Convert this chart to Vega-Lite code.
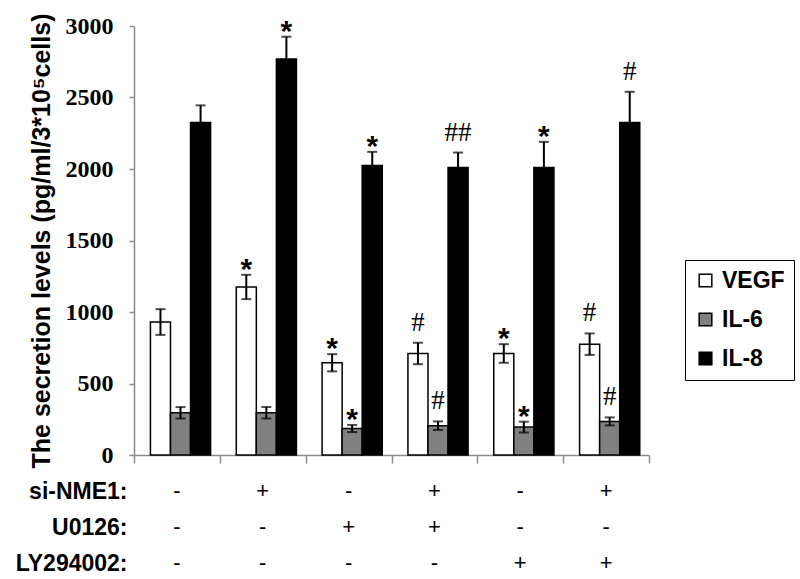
{
  "$schema": "https://vega.github.io/schema/vega-lite/v6.json",
  "background": "white",
  "padding": {"left": 15, "top": 13, "right": 0, "bottom": 0},
  "spacing": 12,
  "resolve": {"legend": {"color": "independent"}},
  "config": {
    "view": {"stroke": null},
    "axis": {"domainColor": "#8c8c8c", "tickColor": "#8c8c8c", "domainWidth": 1.5, "tickWidth": 1.5, "grid": false}
  },
  "datasets": {
    "bars": [
      {"group": "1", "series": "VEGF", "value": 930, "lo": 840, "hi": 1020, "sig": ""},
      {"group": "1", "series": "IL-6", "value": 295, "lo": 255, "hi": 335, "sig": ""},
      {"group": "1", "series": "IL-8", "value": 2325, "lo": 2205, "hi": 2445, "sig": ""},
      {"group": "2", "series": "VEGF", "value": 1175, "lo": 1090, "hi": 1260, "sig": "*"},
      {"group": "2", "series": "IL-6", "value": 295, "lo": 255, "hi": 335, "sig": ""},
      {"group": "2", "series": "IL-8", "value": 2770, "lo": 2615, "hi": 2925, "sig": "*"},
      {"group": "3", "series": "VEGF", "value": 645, "lo": 585, "hi": 705, "sig": "*"},
      {"group": "3", "series": "IL-6", "value": 185, "lo": 160, "hi": 210, "sig": "*"},
      {"group": "3", "series": "IL-8", "value": 2025, "lo": 1930, "hi": 2120, "sig": "*"},
      {"group": "4", "series": "VEGF", "value": 710, "lo": 635, "hi": 785, "sig": "#"},
      {"group": "4", "series": "IL-6", "value": 205, "lo": 175, "hi": 235, "sig": "#"},
      {"group": "4", "series": "IL-8", "value": 2010, "lo": 1905, "hi": 2115, "sig": "##"},
      {"group": "5", "series": "VEGF", "value": 710, "lo": 645, "hi": 775, "sig": "*"},
      {"group": "5", "series": "IL-6", "value": 195, "lo": 157, "hi": 233, "sig": "*"},
      {"group": "5", "series": "IL-8", "value": 2010, "lo": 1830, "hi": 2190, "sig": "*"},
      {"group": "6", "series": "VEGF", "value": 775, "lo": 700, "hi": 850, "sig": "#"},
      {"group": "6", "series": "IL-6", "value": 235, "lo": 207, "hi": 263, "sig": "#"},
      {"group": "6", "series": "IL-8", "value": 2325, "lo": 2110, "hi": 2540, "sig": "#"}
    ],
    "table": [
      {"group": "1", "treatment": "si-NME1:", "sign": "-"},
      {"group": "2", "treatment": "si-NME1:", "sign": "+"},
      {"group": "3", "treatment": "si-NME1:", "sign": "-"},
      {"group": "4", "treatment": "si-NME1:", "sign": "+"},
      {"group": "5", "treatment": "si-NME1:", "sign": "-"},
      {"group": "6", "treatment": "si-NME1:", "sign": "+"},
      {"group": "1", "treatment": "U0126:", "sign": "-"},
      {"group": "2", "treatment": "U0126:", "sign": "-"},
      {"group": "3", "treatment": "U0126:", "sign": "+"},
      {"group": "4", "treatment": "U0126:", "sign": "+"},
      {"group": "5", "treatment": "U0126:", "sign": "-"},
      {"group": "6", "treatment": "U0126:", "sign": "-"},
      {"group": "1", "treatment": "LY294002:", "sign": "-"},
      {"group": "2", "treatment": "LY294002:", "sign": "-"},
      {"group": "3", "treatment": "LY294002:", "sign": "-"},
      {"group": "4", "treatment": "LY294002:", "sign": "-"},
      {"group": "5", "treatment": "LY294002:", "sign": "+"},
      {"group": "6", "treatment": "LY294002:", "sign": "+"}
    ]
  },
  "vconcat": [
    {
      "width": 515,
      "height": 429,
      "data": {"name": "bars"},
      "encoding": {
        "x": {"field": "group", "type": "nominal", "scale": {"paddingInner": 0, "paddingOuter": 0},
              "axis": {"labels": false, "title": null, "tickBand": "extent", "tickSize": 8}},
        "xOffset": {"field": "series", "type": "nominal", "sort": ["VEGF", "IL-6", "IL-8"],
                    "scale": {"paddingInner": 0, "paddingOuter": 0.64, "align": 0.64}}
      },
      "layer": [
        {
          "mark": {"type": "bar", "stroke": "black", "strokeWidth": 1.5},
          "encoding": {
            "y": {"field": "value", "type": "quantitative", "scale": {"domain": [0, 3000], "nice": false},
                  "axis": {"values": [0, 500, 1000, 1500, 2000, 2500, 3000], "format": "d", "tickSize": 5, "labelPadding": 16,
                           "labelFont": "Liberation Serif", "labelFontSize": 24, "labelFontWeight": "bold", "labelColor": "black",
                           "title": "The secretion levels (pg/ml/3*10⁵cells)", "titleFont": "Liberation Sans", "titleFontSize": 25,
                           "titleFontWeight": "bold", "titleColor": "black", "titlePadding": 11}},
            "color": {"field": "series", "type": "nominal",
                      "scale": {"domain": ["VEGF", "IL-6", "IL-8"], "range": ["white", "#808080", "black"]},
                      "legend": {"title": null, "orient": "none", "legendX": 551, "legendY": 234, "strokeColor": "black",
                                 "padding": 9, "symbolType": "square", "symbolSize": 160, "symbolStrokeColor": "black",
                                 "symbolStrokeWidth": 1.5, "labelFont": "Liberation Sans", "labelFontSize": 23,
                                 "labelFontWeight": "bold", "labelColor": "black", "rowPadding": 15, "labelOffset": 5}}
          }
        },
        {
          "mark": {"type": "rule", "color": "black", "strokeWidth": 2},
          "encoding": {"y": {"field": "lo", "type": "quantitative"}, "y2": {"field": "hi"}}
        },
        {
          "mark": {"type": "tick", "color": "black", "size": 10, "thickness": 2},
          "encoding": {"y": {"field": "hi", "type": "quantitative"}}
        },
        {
          "mark": {"type": "tick", "color": "black", "size": 10, "thickness": 2},
          "encoding": {"y": {"field": "lo", "type": "quantitative"}}
        },
        {
          "transform": [{"filter": "datum.sig == '*'"}],
          "mark": {"type": "text", "font": "Liberation Sans", "fontSize": 30, "fontWeight": "bold", "baseline": "alphabetic", "dy": 4, "color": "black"},
          "encoding": {"y": {"field": "hi", "type": "quantitative"}, "text": {"field": "sig"}}
        },
        {
          "transform": [{"filter": "indexof(datum.sig, '#') >= 0"}],
          "mark": {"type": "text", "font": "Liberation Serif", "fontSize": 27, "baseline": "alphabetic", "dy": -12, "color": "black"},
          "encoding": {"y": {"field": "hi", "type": "quantitative"}, "text": {"field": "sig"}}
        }
      ]
    },
    {
      "width": 515,
      "height": 72,
      "data": {"name": "table"},
      "mark": {"type": "text", "font": "Liberation Sans", "fontSize": 22, "color": "black"},
      "encoding": {
        "x": {"field": "group", "type": "nominal", "scale": {"paddingInner": 0, "paddingOuter": 0}, "axis": null},
        "y": {"field": "treatment", "type": "nominal", "sort": ["si-NME1:", "U0126:", "LY294002:"],
              "scale": {"type": "point", "padding": 0},
              "axis": {"domain": false, "ticks": false, "title": null, "labelFont": "Liberation Sans", "labelFontSize": 23,
                       "labelFontWeight": "bold", "labelColor": "black", "labelPadding": 7}},
        "text": {"field": "sign"}
      }
    }
  ]
}
